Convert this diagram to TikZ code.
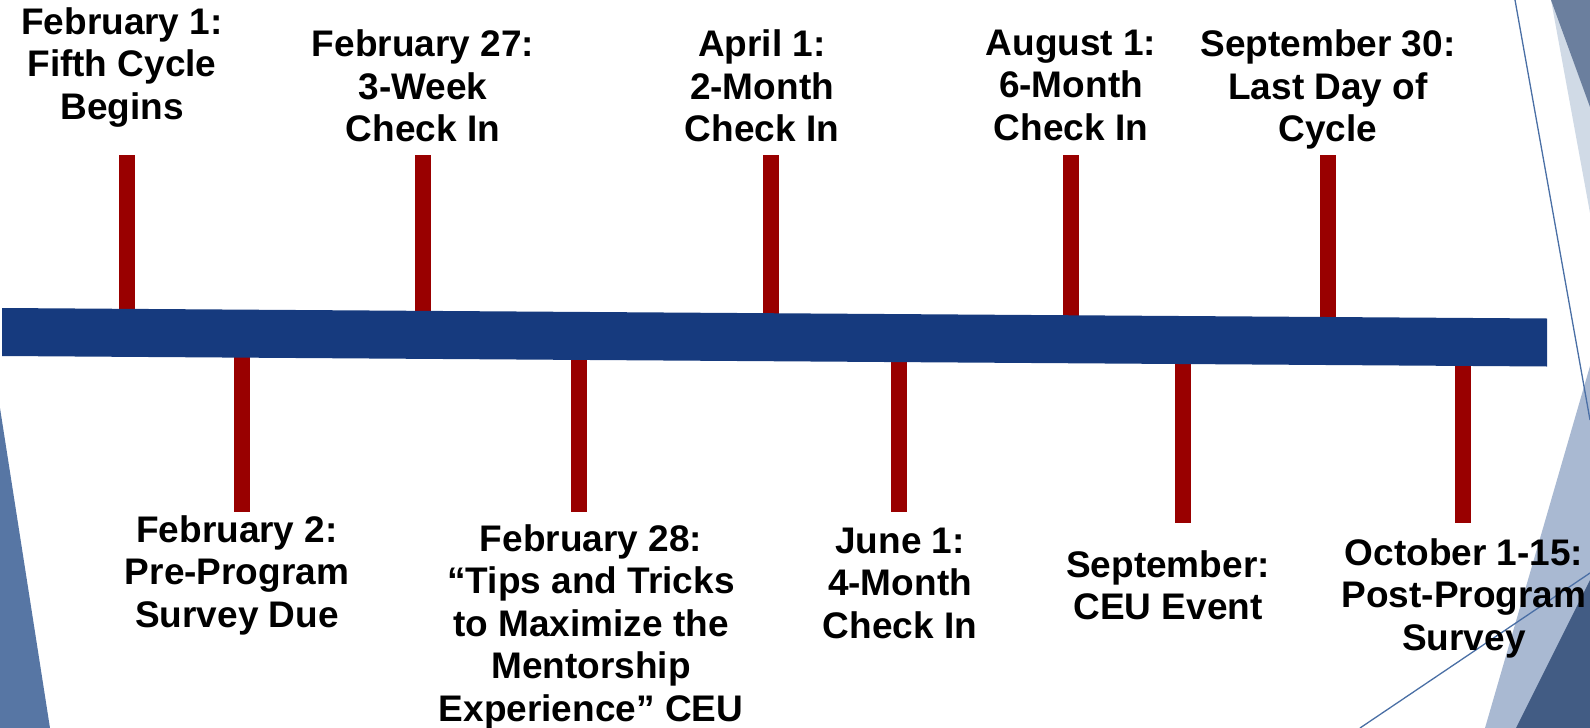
\documentclass[tikz,border=0pt]{standalone}
\usepackage{fontspec}
\setmainfont{Liberation Sans}
\definecolor{barblue}{RGB}{22,58,126}
\definecolor{tickred}{RGB}{153,0,0}
\definecolor{facetline}{RGB}{74,111,165}
\definecolor{facetleft}{RGB}{87,118,164}
\definecolor{facettop}{RGB}{107,127,158}
\definecolor{facetpale}{RGB}{208,218,230}
\definecolor{facetlight}{RGB}{169,185,210}
\definecolor{facetdark}{RGB}{66,92,132}

\begin{document}
\begin{tikzpicture}[%
x=1pt, y=-1pt,
event/.style={font=\bfseries\fontsize{37}{42.5}\selectfont, align=center, inner sep=0pt, anchor=north},
]
\useasboundingbox (0,0) rectangle (1590,728);
%% background facets;
\fill [facetleft] (0,408) -- (50,728) -- (0,728) -- cycle;
\fill [facetpale] (1551,0) -- (1590,0) -- (1590,213) -- cycle;
\fill [facettop] (1551,0) -- (1590,0) -- (1590,107) -- cycle;
\fill [facetlight] (1590,366) -- (1590,728) -- (1485,728) -- cycle;
\fill [facetdark] (1590,580) -- (1590,728) -- (1516,728) -- cycle;
\draw [facetline, line width=1.3pt] (1515,0) -- (1590,420);
\draw [facetline, line width=1.3pt] (1360,728) -- (1590,573);
%% ticks above;
\fill [tickred] (119,155) rectangle (135,340);
\fill [tickred] (415,155) rectangle (431,340);
\fill [tickred] (763,155) rectangle (779,340);
\fill [tickred] (1063,155) rectangle (1079,340);
\fill [tickred] (1320,155) rectangle (1336,340);
%% ticks below;
\fill [tickred] (234,330) rectangle (250,512);
\fill [tickred] (571,330) rectangle (587,512);
\fill [tickred] (891,330) rectangle (907,512);
\fill [tickred] (1175,330) rectangle (1191,523);
\fill [tickred] (1455,330) rectangle (1471,523);
%% bar;
\fill [barblue] (2,308) -- (1547,318.5) -- (1547,366.5) -- (2,356) -- cycle;
%% labels above;
\node [event] (feb1) at (122,7.4) {February 1:\\Fifth Cycle\\Begins};
\node [event] (feb27) at (423,29.5) {February 27:\\3-Week\\Check In};
\node [event] (apr1) at (762,29.5) {April 1:\\2-Month\\Check In};
\node [event] (aug1) at (1071,29.5) {August 1:\\6-Month\\Check In};
\node [event] (sep30) at (1328,29.5) {September 30:\\Last Day of\\Cycle};
%% labels below;
\node [event] (feb2) at (237,515) {February 2:\\Pre-Program\\Survey Due};
\node [event] (feb28) at (591,524.4) {February 28:\\“Tips and Tricks\\to Maximize the\\Mentorship\\Experience” CEU};
\node [event] (jun1) at (900,527.4) {June 1:\\4-Month\\Check In};
\node [event] (sept) at (1168,550) {September:\\CEU Event};
\node [event] (oct1) at (1464,538.4) {October 1-15:\\Post-Program\\Survey};
\end{tikzpicture}
\end{document}
